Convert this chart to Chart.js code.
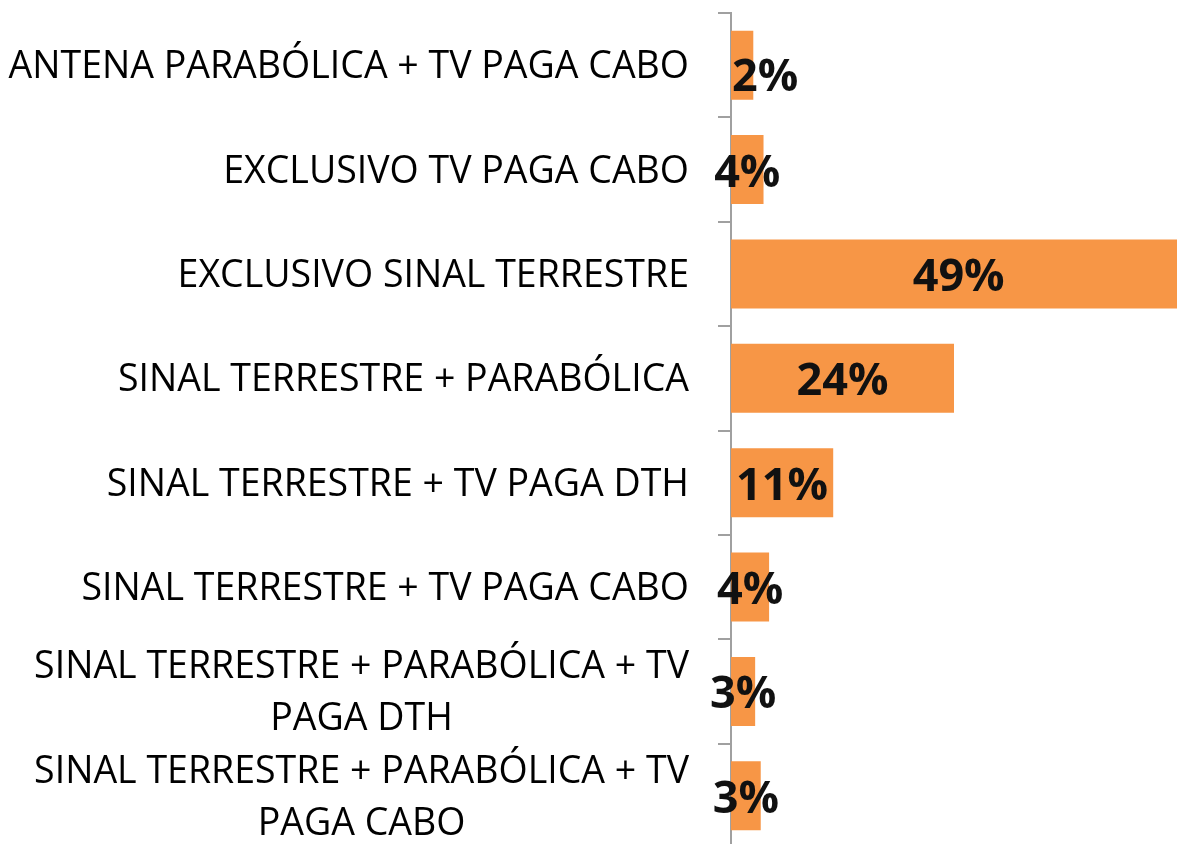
<!DOCTYPE html>
<html>
<head>
<meta charset="utf-8">
<script src="https://cdn.jsdelivr.net/npm/chart.js@4/dist/chart.umd.min.js"></script>
<style>
  html, body { margin: 0; padding: 0; background: #fff; overflow: hidden; }
  #wrap { width: 1177px; height: 848px; position: relative; }
</style>
</head>
<body>
<div id="wrap"><canvas id="tvChart"></canvas></div>
<script>
// categories (wrapped the way the original shows them)
const categories = [
    ['ANTENA PARABÓLICA + TV PAGA CABO'],
    ['EXCLUSIVO TV PAGA CABO'],
    ['EXCLUSIVO SINAL TERRESTRE'],
    ['SINAL TERRESTRE + PARABÓLICA'],
    ['SINAL TERRESTRE + TV PAGA DTH'],
    ['SINAL TERRESTRE + TV PAGA CABO'],
    ['SINAL TERRESTRE + PARABÓLICA + TV', 'PAGA DTH'],
    ['SINAL TERRESTRE + PARABÓLICA + TV', 'PAGA CABO']
];
// share of households, %
const shares = [2.4, 3.5, 49, 24, 11, 4.1, 2.6, 3.2];
const valueLabels = ['2%', '4%', '49%', '24%', '11%', '4%', '3%', '3%'];

const axisGray = '#A0A0A0';
const barColor = '#F79646';

// category names drawn by hand so wrapped lines stay centred on each other
const categoryLabels = {
    id: 'categoryLabels',
    afterDraw(chart) {
        const ctx = chart.ctx;
        const yScale = chart.scales.y;
        const rightEdge = 689;
        const lineHeight = 52;
        ctx.save();
        ctx.font = '37.5px "Open Sans"';
        ctx.fillStyle = '#000';
        ctx.textAlign = 'center';
        ctx.textBaseline = 'alphabetic';
        categories.forEach((lines, i) => {
            const cy = yScale.getPixelForValue(i);
            const maxW = Math.max(...lines.map(l => ctx.measureText(l).width));
            const cx = rightEdge - maxW / 2;
            const top = cy - (lines.length - 1) * lineHeight / 2;
            lines.forEach((line, j) => {
                ctx.fillText(line, cx, top + j * lineHeight + 13);
            });
        });
        ctx.restore();
    }
};

const valueTags = {
    id: 'valueTags',
    afterDatasetsDraw(chart) {
        const ctx = chart.ctx;
        const meta = chart.getDatasetMeta(0);
        ctx.save();
        ctx.font = 'bold 45px "Open Sans"';
        ctx.fillStyle = '#111';
        ctx.textAlign = 'center';
        ctx.textBaseline = 'alphabetic';
        meta.data.forEach((bar, i) => {
            let x = (bar.base + bar.x) / 2;
            let y = bar.y + 17;
            // the first tag sits a little off centre in the original
            if (i === 0) { x += 23; y += 9; }
            ctx.fillText(valueLabels[i], x, y);
        });
        ctx.restore();
    }
};

new Chart(document.getElementById('tvChart'), {
    type: 'bar',
    data: {
        labels: categories,
        datasets: [{
            data: shares,
            backgroundColor: barColor,
            borderWidth: 0,
            categoryPercentage: 1,
            barPercentage: 0.66
        }]
    },
    options: {
        indexAxis: 'y',
        responsive: true,
        maintainAspectRatio: false,
        animation: false,
        layout: { padding: { top: 13, right: 0, bottom: 0, left: 0 } },
        plugins: {
            legend: { display: false },
            tooltip: { enabled: false }
        },
        scales: {
            x: {
                display: false,
                min: 0,
                max: 48
            },
            y: {
                ticks: { display: false },
                grid: {
                    offset: true,
                    drawOnChartArea: false,
                    drawTicks: true,
                    tickLength: 13,
                    color: axisGray,
                    lineWidth: 2
                },
                border: { display: true, color: axisGray, width: 2 },
                afterFit(scale) {
                    scale.width = 731;
                }
            }
        }
    },
    plugins: [categoryLabels, valueTags]
});
</script>
</body>
</html>
